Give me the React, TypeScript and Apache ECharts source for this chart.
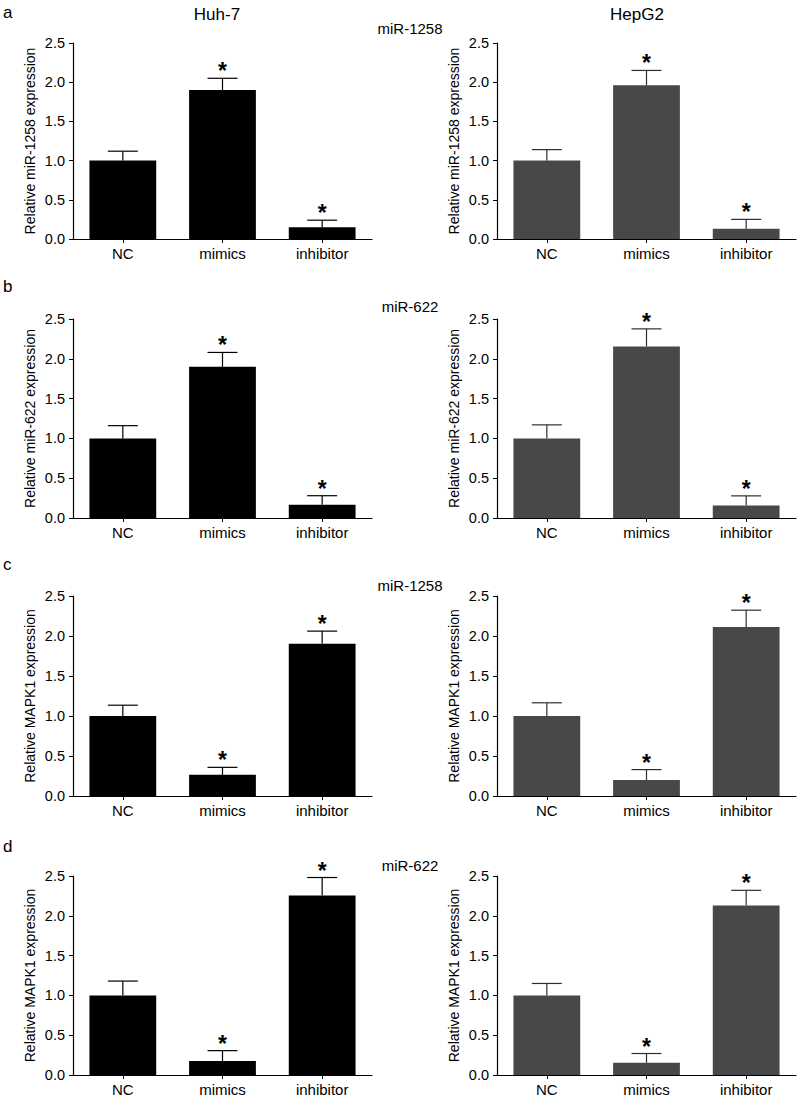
import React, { useEffect, useRef } from "react";
import * as echarts from "echarts";

const categories = ["NC", "mimics", "inhibitor"];
const yTicks = [0, 0.5, 1.0, 1.5, 2.0, 2.5];

// Row a: miR-1258 expression
const aHuh7Mean = [1.0, 1.9, 0.15];
const aHuh7Sem = [0.12, 0.15, 0.09];
const aHepG2Mean = [1.0, 1.96, 0.13];
const aHepG2Sem = [0.14, 0.19, 0.12];
// Row b: miR-622 expression
const bHuh7Mean = [1.0, 1.9, 0.165];
const bHuh7Sem = [0.16, 0.18, 0.115];
const bHepG2Mean = [1.0, 2.156, 0.158];
const bHepG2Sem = [0.17, 0.22, 0.12];
// Row c: MAPK1 expression (miR-1258)
const cHuh7Mean = [1.0, 0.265, 1.904];
const cHuh7Sem = [0.135, 0.093, 0.157];
const cHepG2Mean = [1.0, 0.2, 2.113];
const cHepG2Sem = [0.165, 0.13, 0.21];
// Row d: MAPK1 expression (miR-622)
const dHuh7Mean = [1.0, 0.176, 2.256];
const dHuh7Sem = [0.18, 0.13, 0.225];
const dHepG2Mean = [1.0, 0.155, 2.13];
const dHepG2Sem = [0.15, 0.115, 0.19];

const significant = [false, true, true];

const rowLetters = ["a", "b", "c", "d"];
const rowLabels = ["miR-1258", "miR-622", "miR-1258", "miR-622"];
const yNames = [
  "Relative miR-1258 expression",
  "Relative miR-622 expression",
  "Relative MAPK1 expression",
  "Relative MAPK1 expression",
];
const columnTitles = ["Huh-7", "HepG2"];

const FONT = "Liberation Sans, Arial, sans-serif";

const panels = [
  { row: 0, col: 0, mean: aHuh7Mean, sem: aHuh7Sem },
  { row: 0, col: 1, mean: aHepG2Mean, sem: aHepG2Sem },
  { row: 1, col: 0, mean: bHuh7Mean, sem: bHuh7Sem },
  { row: 1, col: 1, mean: bHepG2Mean, sem: bHepG2Sem },
  { row: 2, col: 0, mean: cHuh7Mean, sem: cHuh7Sem },
  { row: 2, col: 1, mean: cHepG2Mean, sem: cHepG2Sem },
  { row: 3, col: 0, mean: dHuh7Mean, sem: dHuh7Sem },
  { row: 3, col: 1, mean: dHepG2Mean, sem: dHepG2Sem },
];

const rowTops = [43, 319, 596, 876];
const rowHeights = [196, 199, 200, 199];
const colLefts = [73, 497];
const colWidth = 299;
const colColors = ["#000000", "#484848"];
const errColors = ["#000000", "#2e2e2e"];

export default function App() {
  const ref = useRef<HTMLDivElement>(null);

  useEffect(() => {
    if (!ref.current) return;
    const chart = echarts.init(ref.current, null, { renderer: "svg" });

    const grids: any[] = [];
    const xAxes: any[] = [];
    const yAxes: any[] = [];
    const series: any[] = [];

    panels.forEach((p, i) => {
      grids.push({
        left: colLefts[p.col],
        top: rowTops[p.row],
        width: colWidth,
        height: rowHeights[p.row],
        containLabel: false,
      });
      xAxes.push({
        type: "category",
        gridIndex: i,
        data: categories,
        axisLine: { lineStyle: { color: "#000", width: 1.2 } },
        axisTick: { show: true, alignWithLabel: true, length: 4, lineStyle: { color: "#000" } },
        axisLabel: { color: "#000", fontSize: 15, fontFamily: FONT, margin: 7 },
      });
      yAxes.push({
        type: "value",
        gridIndex: i,
        min: 0,
        max: 2.5,
        interval: 0.5,
        name: yNames[p.row],
        nameLocation: "middle",
        nameGap: 36,
        nameRotate: 90,
        nameTextStyle: { color: "#000", fontSize: 14, fontFamily: FONT },
        axisLine: { show: true, lineStyle: { color: "#000", width: 1.2 } },
        axisTick: { show: true, length: 4, lineStyle: { color: "#000" } },
        axisLabel: {
          color: "#000",
          fontSize: 14.5,
          fontFamily: FONT,
          margin: 8,
          formatter: (v: number) => (yTicks.includes(v) ? v.toFixed(1) : ""),
        },
        splitLine: { show: false },
      });
      series.push({
        type: "bar",
        xAxisIndex: i,
        yAxisIndex: i,
        data: p.mean,
        barWidth: "67%",
        itemStyle: { color: colColors[p.col] },
        silent: true,
      });
      const errData = p.mean.map((m, k) => [k, m, m + p.sem[k], significant[k] ? 1 : 0]);
      series.push({
        type: "custom",
        xAxisIndex: i,
        yAxisIndex: i,
        data: errData,
        silent: true,
        z: 5,
        renderItem: (params: any, api: any) => {
          const idx = api.value(0);
          const base = api.coord([idx, api.value(1)]);
          const top = api.coord([idx, api.value(2)]);
          const half = 15;
          const col = errColors[p.col];
          const children: any[] = [
            {
              type: "line",
              shape: { x1: top[0], y1: base[1], x2: top[0], y2: top[1] },
              style: { stroke: col, lineWidth: 1.2 },
            },
            {
              type: "line",
              shape: { x1: top[0] - half, y1: top[1], x2: top[0] + half, y2: top[1] },
              style: { stroke: col, lineWidth: 1.2 },
            },
          ];
          if (api.value(3) === 1) {
            children.push({
              type: "text",
              x: top[0],
              y: top[1] - 7,
              style: {
                text: "*",
                fill: "#000",
                fontSize: 23,
                fontWeight: "bold",
                fontFamily: FONT,
                align: "center",
                verticalAlign: "middle",
              },
            });
          }
          return { type: "group", children };
        },
      });
    });

    const graphics: any[] = [];
    const letterY = [4, 278, 556, 838];
    rowLetters.forEach((l, r) => {
      graphics.push({
        type: "text",
        left: 3,
        top: letterY[r],
        style: { text: l, fontSize: 17, fontFamily: FONT, fill: "#000" },
      });
    });
    const labelY = [28, 306, 585, 865];
    rowLabels.forEach((t, r) => {
      graphics.push({
        type: "text",
        x: 410,
        y: labelY[r],
        style: {
          text: t,
          fontSize: 15,
          fontFamily: FONT,
          fill: "#000",
          align: "center",
          verticalAlign: "middle",
        },
      });
    });
    const titleX = [217, 637];
    columnTitles.forEach((t, c) => {
      graphics.push({
        type: "text",
        x: titleX[c],
        y: 14,
        style: {
          text: t,
          fontSize: 17,
          fontFamily: FONT,
          fill: "#000",
          align: "center",
          verticalAlign: "middle",
        },
      });
    });

    chart.setOption({
      animation: false,
      backgroundColor: "#fff",
      grid: grids,
      xAxis: xAxes,
      yAxis: yAxes,
      series,
      graphic: graphics,
    });

    return () => chart.dispose();
  }, []);

  return (
    <div
      ref={ref}
      style={{ position: "absolute", left: 0, top: 0, width: 800, height: 1097, background: "#fff" }}
    />
  );
}
